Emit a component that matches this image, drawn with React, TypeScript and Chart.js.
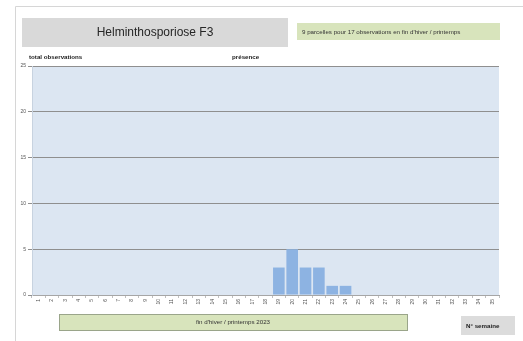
import React, { useEffect, useRef } from "react";
import { Chart, registerables } from "chart.js";

Chart.register(...registerables);

const weeks: string[] = [
  "1","2","3","4","5","6","7","8","9","10","11","12","13","14","15","16","17","18",
  "19","20","21","22","23","24","25","26","27","28","29","30","31","32","33","34","35",
];
const presence: number[] = [
  0,0,0,0,0,0,0,0,0,0,0,0,0,0,0,0,0,0,
  3,5,3,3,1,1,0,0,0,0,0,0,0,0,0,0,0,
];
const yTicks: number[] = [0, 5, 10, 15, 20, 25];

const title = "Helminthosporiose F3";
const subtitle = "9 parcelles pour 17 observations en fin d'hiver / printemps";
const yTitle = "total observations";
const seriesName = "présence";
const periodLabel = "fin d'hiver / printemps 2023";
const xTitle = "N° semaine";

const FONT = "'Liberation Sans', Arial, sans-serif";

const decor = {
  id: "decor",
  beforeDraw(chart: any) {
    const ctx = chart.ctx as CanvasRenderingContext2D;
    const a = chart.chartArea;
    ctx.save();
    // outer frame
    ctx.strokeStyle = "#d6d6d6";
    ctx.lineWidth = 1;
    ctx.beginPath();
    ctx.moveTo(15.5, 341);
    ctx.lineTo(15.5, 6.5);
    ctx.lineTo(523, 6.5);
    ctx.stroke();
    // plot background
    ctx.fillStyle = "#dce6f2";
    ctx.fillRect(a.left, a.top, a.right - a.left, a.bottom - a.top);
    // title box
    ctx.fillStyle = "#d9d9d9";
    ctx.fillRect(22, 18, 266, 29);
    ctx.fillStyle = "#262626";
    ctx.font = `12px ${FONT}`;
    ctx.textAlign = "center";
    ctx.textBaseline = "middle";
    ctx.fillText(title, 155, 33);
    // subtitle box
    ctx.fillStyle = "#d8e4bc";
    ctx.fillRect(297, 23, 203, 17);
    ctx.fillStyle = "#333";
    ctx.font = `6.2px ${FONT}`;
    ctx.textAlign = "left";
    ctx.fillText(subtitle, 302, 32);
    // axis title and series name
    ctx.font = `bold 6.2px ${FONT}`;
    ctx.fillStyle = "#222";
    ctx.fillText(yTitle, 29, 57);
    ctx.fillText(seriesName, 232, 57);
    // period box
    ctx.fillStyle = "#d8e4bc";
    ctx.fillRect(59, 314, 348, 16);
    ctx.strokeStyle = "#9aa58a";
    ctx.strokeRect(59.5, 314.5, 348, 16);
    ctx.fillStyle = "#333";
    ctx.font = `6.2px ${FONT}`;
    ctx.textAlign = "center";
    ctx.fillText(periodLabel, 233, 322.5);
    // week label box
    ctx.fillStyle = "#dcdcdc";
    ctx.fillRect(461, 316, 54, 19);
    ctx.fillStyle = "#222";
    ctx.font = `bold 6.2px ${FONT}`;
    ctx.textAlign = "left";
    ctx.fillText(xTitle, 466, 326);
    ctx.restore();
  },
};

export default function App() {
  const ref = useRef<HTMLCanvasElement>(null);
  useEffect(() => {
    document.body.style.margin = "0";
    const chart = new Chart(ref.current!, {
      type: "bar",
      data: {
        labels: weeks,
        datasets: [
          {
            label: seriesName,
            data: presence,
            backgroundColor: "#8db3e2",
            barPercentage: 0.87,
            categoryPercentage: 1,
          },
        ],
      },
      options: {
        animation: false,
        responsive: false,
        maintainAspectRatio: false,
        layout: { padding: { top: 66, right: 24, left: 0, bottom: 0 } },
        plugins: { legend: { display: false }, tooltip: { enabled: false } },
        scales: {
          x: {
            afterFit: (s: any) => { s.height = 46; },
            grid: { drawOnChartArea: false, drawTicks: true, tickLength: 3, color: "#bfbfbf", offset: true },
            border: { color: "#a6a6a6" },
            ticks: {
              autoSkip: false,
              maxRotation: 90,
              minRotation: 90,
              padding: 1,
              color: "#555",
              font: { size: 5, family: FONT },
            },
          },
          y: {
            min: 0,
            max: 25,
            afterFit: (s: any) => { s.width = 32; },
            afterBuildTicks: (s: any) => { s.ticks = yTicks.map((v) => ({ value: v })); },
            grid: { color: "#8f8f8f", tickLength: 4 },
            border: { color: "#c8d3e0" },
            ticks: {
              padding: 2,
              color: "#555",
              font: { size: 5, family: FONT },
            },
          },
        },
      },
      plugins: [decor],
    });
    return () => chart.destroy();
  }, []);
  return (
    <div style={{ position: "fixed", left: 0, top: 0, width: 523, height: 341, background: "#fff" }}>
      <canvas ref={ref} width={523} height={341} style={{ width: 523, height: 341, display: "block" }} />
    </div>
  );
}
